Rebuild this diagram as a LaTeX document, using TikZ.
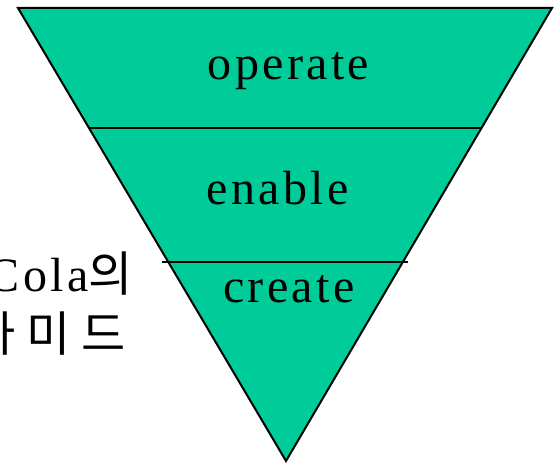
\documentclass[tikz,border=0pt]{standalone}
\usepackage{fontspec}
\setmainfont[LetterSpace=7]{Liberation Serif}
\newfontfamily\korfont{Noto Sans CJK KR}
\definecolor{pyrgreen}{RGB}{0,204,153}
\begin{document}
\begin{tikzpicture}[x=1pt,y=1pt,
    level/.style={font=\fontsize{48}{52}\selectfont, inner sep=0pt, anchor=base},
    side/.style={font=\fontsize{48}{52}\selectfont, inner sep=0pt, anchor=base east}]
  \clip (0,0) rectangle (556,465);

  % the pyramid, upside down
  \coordinate (TL) at (18,457);
  \coordinate (TR) at (552,457);
  \coordinate (B) at (286,4);
  \draw[line width=2pt, fill=pyrgreen] (TL) -- (TR) -- (B) -- cycle;

  \coordinate (L1a) at (88.5,337);
  \coordinate (L1b) at (482,337);
  \coordinate (L2a) at (162,203);
  \coordinate (L2b) at (408,203);
  \draw[line width=1.3pt] (L1a) -- (L1b);
  \draw[line width=1.3pt] (L2a) -- (L2b);

  \node[level] (op) at (288.5,385) {operate};
  \node[level] (en) at (277.5,260) {enable};
  \node[level] (cr) at (289,162) {create};

  % caption at the left, cut by the page edge
  \node[side] (cola) at (133,173) {Cola{\korfont 의}};
  \node[side] (pyr) at (126,113) {\korfont 라 미 드};
\end{tikzpicture}
\end{document}
